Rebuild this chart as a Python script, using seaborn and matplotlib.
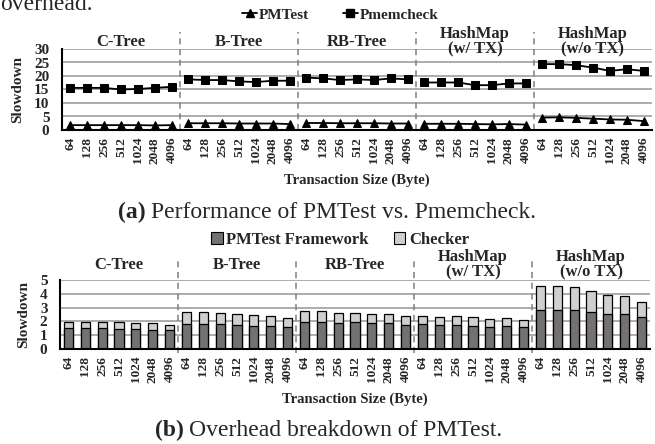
import numpy as np
import pandas as pd
import seaborn as sns
import matplotlib.pyplot as plt
from matplotlib.lines import Line2D
from matplotlib.patches import Patch

groups = ["C-Tree", "B-Tree", "RB-Tree", "HashMap\n(w/ TX)", "HashMap\n(w/o TX)"]
sizes = ["64", "128", "256", "512", "1024", "2048", "4096"]

# (a) slowdown, one value per (group, size)
pmtest = [1.8, 1.8, 1.8, 1.8, 1.8, 1.7, 1.8,
          2.5, 2.5, 2.5, 2.4, 2.4, 2.4, 2.2,
          2.6, 2.6, 2.5, 2.5, 2.5, 2.4, 2.4,
          2.3, 2.3, 2.3, 2.2, 2.1, 2.2, 2.0,
          4.6, 4.7, 4.5, 4.2, 3.9, 3.8, 3.3]
pmemcheck = [15.6, 15.6, 15.6, 15.0, 15.2, 15.6, 16.0,
             18.75, 18.5, 18.5, 18.0, 17.75, 18.25, 18.25,
             19.4, 19.1, 18.5, 18.75, 18.5, 19.1, 18.75,
             17.6, 17.6, 17.6, 16.6, 16.6, 17.25, 17.25,
             24.4, 24.4, 24.0, 23.1, 21.9, 22.5, 21.9]

# (b) overhead breakdown
framework = [1.5, 1.5, 1.5, 1.45, 1.45, 1.4, 1.35,
             1.8, 1.8, 1.8, 1.74, 1.67, 1.67, 1.57,
             1.93, 1.93, 1.86, 1.93, 1.9, 1.86, 1.74,
             1.8, 1.74, 1.74, 1.67, 1.62, 1.67, 1.57,
             2.86, 2.86, 2.86, 2.69, 2.52, 2.52, 2.29]
checker = [0.48, 0.48, 0.48, 0.48, 0.43, 0.5, 0.4,
           0.88, 0.88, 0.78, 0.78, 0.81, 0.73, 0.69,
           0.81, 0.81, 0.76, 0.69, 0.67, 0.66, 0.66,
           0.6, 0.59, 0.66, 0.62, 0.57, 0.57, 0.5,
           1.71, 1.71, 1.64, 1.52, 1.38, 1.31, 1.11]

sns.set_theme(style="white")
plt.rcParams["font.family"] = ["Liberation Serif", "DejaVu Serif"]

n = len(sizes)
idx = np.arange(len(groups) * n)
grp = np.repeat(np.arange(len(groups)), n)
ticklabels = sizes * len(groups)

dark = "#767171"
light = "#d0cece"
gridc = "#a6a6a6"
sepc = "#7f7f7f"

W, H = 655, 444
fig = plt.figure(figsize=(W / 100, H / 100), dpi=100)
ax1 = fig.add_axes([62 / W, 1 - 130 / H, 590 / W, 81 / H])
ax2 = fig.add_axes([60 / W, 1 - 349 / H, 590 / W, 69 / H])

# ---- (a) line chart
df = pd.DataFrame({
    "pos": np.concatenate([idx, idx]),
    "val": pmtest + pmemcheck,
    "series": ["PMTest"] * len(idx) + ["Pmemcheck"] * len(idx),
    "grp": np.concatenate([grp, grp]),
})
sns.lineplot(data=df, x="pos", y="val", style="series", units="grp",
             estimator=None, markers={"PMTest": "^", "Pmemcheck": "s"},
             dashes=False, color="black", linewidth=1.3, markersize=6,
             markeredgecolor="black", legend=False, ax=ax1, zorder=3)
ax1.set_ylim(0, 30)
ax1.set_yticks(range(0, 31, 5))

# ---- (b) stacked bars
total = np.array(framework) + np.array(checker)
sns.barplot(x=idx, y=total, color=light, saturation=1, edgecolor="black",
            linewidth=0.9, width=0.55, ax=ax2, zorder=3)
sns.barplot(x=idx, y=framework, color=dark, saturation=1, edgecolor="black",
            linewidth=0.9, width=0.55, ax=ax2, zorder=3)
ax2.set_ylim(0, 5)
ax2.set_yticks(range(0, 6))

for ax, top_ext, bot_ext, lab_off in [(ax1, 1.21, 0, 7), (ax2, 1.32, -0.06, 15)]:
    ax.set_xlim(-0.5, len(idx) - 0.5)
    ax.set_xticks(idx)
    ax.set_xticklabels(ticklabels, rotation=90, fontsize=9.5, fontweight="bold")
    ax.tick_params(axis="both", length=0, pad=5)
    ax.tick_params(axis="y", pad=9, labelsize=11)
    for t in ax.get_yticklabels():
        t.set_fontweight("bold")
    ax.yaxis.grid(True, color=gridc, linewidth=1.3)
    ax.xaxis.grid(False)
    ax.set_axisbelow(True)
    for s in ["top", "right"]:
        ax.spines[s].set_visible(False)
    for s in ["left", "bottom"]:
        ax.spines[s].set_color("black")
        ax.spines[s].set_linewidth(1.5)
        ax.spines[s].set_zorder(4)
    ax.set_ylabel("Slowdown", fontsize=11, fontweight="bold", labelpad=7)
    ax.set_xlabel("Transaction Size (Byte)", fontsize=10.5, fontweight="bold", labelpad=7)
    for g in range(1, len(groups)):
        ax.axvline(g * n - 0.5, ymin=bot_ext, ymax=top_ext, color=sepc,
                   linestyle=(0, (4, 3)), linewidth=1.1, clip_on=False, zorder=1)
    for g, name in enumerate(groups):
        ax.annotate(name, xy=(g * n + (n - 1) / 2, 1), xycoords=("data", "axes fraction"),
                    xytext=(0, lab_off * 0.72), textcoords="offset points",
                    ha="center", va="center", fontsize=12, fontweight="bold",
                    linespacing=0.95, annotation_clip=False)

# legends
h1 = [Line2D([], [], color="black", marker="^", markersize=6, linewidth=1.3),
      Line2D([], [], color="black", marker="s", markersize=6, linewidth=1.3)]
fig.legend(h1, ["PMTest", "Pmemcheck"], loc="center", bbox_to_anchor=(340 / W, 1 - 15 / H),
           ncol=2, frameon=False, handlelength=1.0, handletextpad=0.1, columnspacing=2.2,
           prop={"weight": "bold", "size": 11})
h2 = [Patch(facecolor=dark, edgecolor="black", linewidth=0.8),
      Patch(facecolor=light, edgecolor="black", linewidth=0.8)]
fig.legend(h2, ["PMTest Framework", "Checker"], loc="center", bbox_to_anchor=(340 / W, 1 - 240 / H),
           ncol=2, frameon=False, handlelength=0.7, handleheight=0.7, handletextpad=0.2,
           columnspacing=1.5, prop={"weight": "bold", "size": 12})

# captions: bold tag followed by regular text
fig.text(0.0, 1 - 10 / H, "overhead.", fontsize=17, va="baseline", ha="left")
renderer = fig.canvas.get_renderer()
for x0, yc, tag, rest in [(118, 212, "(a)", "Performance of PMTest vs. Pmemcheck."),
                          (155, 430, "(b)", "Overhead breakdown of PMTest.")]:
    t = fig.text(x0 / W, 1 - yc / H, tag, fontsize=17, fontweight="bold", ha="left", va="center")
    x1 = t.get_window_extent(renderer).x1
    fig.text((x1 + 5) / W, 1 - yc / H, rest, fontsize=17, ha="left", va="center")

fig.savefig("out.png", dpi=100)
